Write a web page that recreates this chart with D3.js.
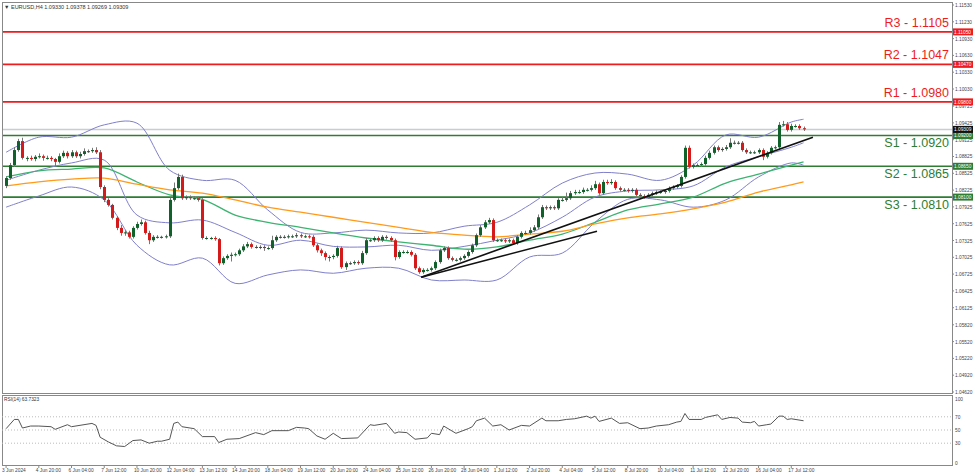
<!DOCTYPE html>
<html><head><meta charset="utf-8">
<script src="https://cdn.jsdelivr.net/npm/d3@7"></script>
<style>body{margin:0;background:#fff;font-family:"Liberation Sans",Arial,sans-serif}</style>
</head><body><svg id="c" width="975" height="476"></svg>
<script>
const closes=[1.0844,1.0867,1.0894,1.0910,1.0880,1.0880,1.0878,1.0882,1.0883,1.0880,
1.0880,1.0878,1.0873,1.0883,1.0889,1.0883,1.0890,1.0883,1.0887,1.0892,
1.0892,1.0894,1.0890,1.0828,1.0805,1.0796,1.0773,1.0755,1.0746,1.0747,
1.0739,1.0755,1.0762,1.0765,1.0746,1.0733,1.0739,1.0739,1.0739,1.0740,
1.0805,1.0826,1.0846,1.0808,1.0810,1.0808,1.0808,1.0805,1.0737,1.0737,
1.0737,1.0735,1.0692,1.0701,1.0705,1.0707,1.0708,1.0715,1.0722,1.0726,
1.0721,1.0721,1.0721,1.0719,1.0719,1.0733,1.0739,1.0739,1.0739,1.0740,
1.0740,1.0742,1.0740,1.0740,1.0739,1.0724,1.0715,1.0710,1.0703,1.0703,
1.0705,1.0719,1.0685,1.0692,1.0692,1.0694,1.0692,1.0710,1.0733,1.0733,
1.0737,1.0733,1.0739,1.0737,1.0733,1.0703,1.0712,1.0712,1.0712,1.0707,
1.0683,1.0676,1.0680,1.0680,1.0683,1.0694,1.0715,1.0719,1.0701,1.0698,
1.0698,1.0701,1.0705,1.0712,1.0724,1.0742,1.0756,1.0765,1.0769,1.0733,
1.0733,1.0733,1.0731,1.0733,1.0728,1.0739,1.0746,1.0746,1.0751,1.0756,
1.0774,1.0792,1.0790,1.0792,1.0790,1.0805,1.0805,1.0808,1.0817,1.0819,
1.0819,1.0823,1.0823,1.0826,1.0833,1.0817,1.0837,1.0835,1.0837,1.0826,
1.0823,1.0823,1.0821,1.0823,1.0814,1.0812,1.0810,1.0814,1.0817,1.0819,
1.0819,1.0821,1.0826,1.0828,1.0830,1.0846,1.0898,1.0864,1.0867,1.0867,
1.0869,1.0880,1.0889,1.0899,1.0894,1.0896,1.0899,1.0907,1.0907,1.0907,
1.0894,1.0890,1.0890,1.0890,1.0894,1.0882,1.0889,1.0898,1.0899,1.0939,
1.0940,1.0930,1.0937,1.0937,1.0933,1.0931];
const firstOpen=1.0830;
// wick sizes in pips (upper / lower)
const wickUp=[3,4,5,4,6,3,4,3,5,3, 4,3,2,5,4,3,4,3,4,5, 3,4,5,4,3,3,2,3,5,4, 3,3,4,5,3,4,3,3,2,3, 4,10,6,4,3,3,4,3,3,3, 2,3,2,3,3,4,3,3,4,4, 3,3,3,3,3,8,3,3,3,3, 3,4,3,3,3,3,3,3,3,3, 3,4,3,3,3,3,3,4,4,3, 3,3,3,3,3,3,3,3,3,3, 3,3,3,3,3,3,3,3,3,3, 3,3,3,3,3,3,4,4,4,3, 3,3,3,3,3,3,3,4,5,4, 5,4,3,3,3,3,5,10,4,4, 4,4,3,5,6,3,4,4,5,3, 3,3,3,3,3,3,3,3,3,3, 3,3,3,3,3,3,4,4,3,3, 3,4,4,3,3,3,4,8,4,3, 3,3,3,3,3,3,3,3,3,5, 6,4,4,3,3,3];
const wickDn=[4,3,3,3,3,6,3,4,3,5, 3,4,9,3,3,4,3,3,4,3, 3,3,3,4,4,3,3,4,5,5, 3,3,3,3,3,7,3,3,3,3, 3,3,3,3,3,3,3,3,3,3, 3,3,4,3,3,10,3,3,3,3, 3,3,4,5,3,3,3,3,3,3, 3,3,3,3,3,3,4,5,6,8, 4,3,3,5,3,3,3,3,3,3, 3,3,3,3,3,6,3,3,3,3, 3,3,3,3,3,3,3,3,3,3, 3,3,3,3,3,3,3,3,3,3, 3,3,3,3,3,3,3,3,3,3, 3,3,3,3,3,3,3,3,3,3, 3,3,3,3,3,3,3,3,3,3, 3,3,3,3,3,3,3,3,3,3, 3,3,3,3,3,3,3,3,3,3, 3,3,3,3,3,3,3,3,3,3, 3,3,3,3,3,6,3,3,3,3, 3,3,3,3,3,3];
const sampleIdx=[0,8,16,24,32,40,48,56,64,72,80,88,96,104,112,120,128,136,144,152,160,168,176,184,192,195];
const bbUpper=[1.0890,1.0917,1.0917,1.0939,1.0942,1.0858,1.0840,1.0840,1.0787,1.0747,1.0746,1.0751,1.0746,1.0746,1.0758,1.0765,1.0796,1.0835,1.0853,1.0851,1.0840,1.0867,1.0921,1.0917,1.0944,1.0949];
const bbMiddle=[1.0840,1.0858,1.0871,1.0876,1.0778,1.0764,1.0769,1.0747,1.0724,1.0733,1.0722,1.0721,1.0724,1.0715,1.0722,1.0733,1.0746,1.0774,1.0810,1.0821,1.0823,1.0830,1.0864,1.0882,1.0899,1.0907];
const bbLower=[1.0792,1.0812,1.0828,1.0805,1.0724,1.0689,1.0701,1.0656,1.0671,1.0680,1.0674,1.0683,1.0683,1.0662,1.0662,1.0662,1.0703,1.0710,1.0765,1.0806,1.0805,1.0792,1.0805,1.0846,1.0871,1.0867];
const maGreen=[1.0846,1.0857,1.0860,1.0862,1.0837,1.0814,1.0806,1.0778,1.0765,1.0756,1.0746,1.0737,1.0730,1.0724,1.0717,1.0721,1.0733,1.0744,1.0765,1.0787,1.0798,1.0810,1.0835,1.0851,1.0867,1.0873];
const maOrange=[1.0830,1.0837,1.0842,1.0844,1.0833,1.0823,1.0817,1.0805,1.0792,1.0783,1.0774,1.0765,1.0756,1.0747,1.0742,1.0739,1.0744,1.0749,1.0762,1.0773,1.0780,1.0789,1.0801,1.0819,1.0832,1.0837];
const rsiIdx=[0,2,3,4,6,8,11,12,15,16,21,22,23,25,27,29,31,33,35,37,38,40,41,42,43,46,48,51,52,54,57,61,63,65,69,71,73,74,76,78,80,82,86,89,90,93,95,96,98,100,103,104,106,107,110,113,114,115,117,119,121,123,126,128,131,132,135,137,139,142,143,144,145,148,150,152,155,157,159,162,164,165,166,167,170,171,174,175,177,179,180,182,183,184,186,187,189,190,191,192,195];
const rsiVal=[52,66,66,53,56,56,55,51,58,55,60,57,39,32,26,25,34,35,30,33,33,36,60,62,55,52,40,40,31,36,37,46,43,49,49,54,53,52,41,36,45,37,38,58,57,60,45,47,46,36,38,45,43,56,45,52,55,64,68,56,58,50,57,56,68,64,64,66,67,71,68,71,63,68,60,61,52,53,56,58,62,63,75,66,66,69,73,66,69,68,62,61,63,56,58,59,71,71,66,67,64];
const levels=[{n:"R3",v:1.1105,t:"r"},{n:"R2",v:1.1047,t:"r"},{n:"R1",v:1.0980,t:"r"},{n:"S1",v:1.0920,t:"s"},{n:"S2",v:1.0865,t:"s"},{n:"S3",v:1.0810,t:"s"}];
const levelTags=["1.11050","1.10470","1.09800","1.09200","1.08650","1.08100"];
const lastPrice=1.09309;
const trend1=[[101.5,1.0667],[197.3,1.0917]];
const trend2=[[101.5,1.0667],[144.5,1.0749]];
const priceTicks=[1.11530,1.11230,1.10930,1.10630,1.10330,1.10030,1.09725,1.09425,1.09125,1.08825,1.08525,1.08225,1.07925,1.07625,1.07325,1.07025,1.06725,1.06425,1.06125,1.05820,1.05520,1.05220,1.04920,1.04620];
const timeLabels=["3 Jun 2024","4 Jun 20:00","6 Jun 04:00","7 Jun 12:00","10 Jun 20:00","12 Jun 04:00","13 Jun 12:00","14 Jun 20:00","18 Jun 04:00","19 Jun 12:00","20 Jun 20:00","24 Jun 04:00","25 Jun 12:00","26 Jun 20:00","28 Jun 04:00","1 Jul 12:00","2 Jul 20:00","4 Jul 04:00","5 Jul 12:00","8 Jul 20:00","10 Jul 04:00","11 Jul 12:00","12 Jul 20:00","16 Jul 04:00","17 Jul 12:00"];
const rsiTicks=[100,70,50,30,0];

const svg=d3.select("#c");
const L=2,R=952,T=2,B=393,RT=395,RB=465;
const x=d3.scaleLinear().domain([-1,231.3]).range([L,R]);
const y=d3.scaleLinear().domain([1.0462,1.1153]).range([392,5]);
const yr=d3.scaleLinear().domain([0,100]).range([463,397]);
const FS=4.8;

svg.append("rect").attr("x",L+.5).attr("y",T+.5).attr("width",R-L).attr("height",B-T).attr("fill","none").attr("stroke","#888");
svg.append("rect").attr("x",L+.5).attr("y",RT+.5).attr("width",R-L).attr("height",RB-RT).attr("fill","none").attr("stroke","#888");

svg.append("defs").append("clipPath").attr("id","cl").append("rect").attr("x",L+1).attr("y",T+1).attr("width",R-L-1).attr("height",B-T-1);
const g=svg.append("g").attr("clip-path","url(#cl)");

g.append("line").attr("x1",L).attr("x2",R).attr("y1",y(lastPrice)).attr("y2",y(lastPrice)).attr("stroke","#c8ccd4").attr("stroke-width",1.5);
levels.forEach(d=>{
  const col=d.t==="r"?"#ee1c1c":"#2e7d32";
  g.append("line").attr("x1",L).attr("x2",R).attr("y1",y(d.v)).attr("y2",y(d.v)).attr("stroke",col).attr("stroke-width",1.6);
  svg.append("text").attr("x",949).attr("y",d.t==="r"?y(d.v)-5:y(d.v)+12).attr("text-anchor","end")
    .attr("font-size",12.5).attr("fill",col).text(`${d.n} - ${d.v.toFixed(4)}`);
});

const line=(arr)=>d3.line().x((d,i)=>x(sampleIdx[i])).y(d=>y(d)).curve(d3.curveCatmullRom)(arr);
[bbUpper,bbMiddle,bbLower].forEach(a=>g.append("path").attr("d",line(a)).attr("fill","none").attr("stroke","#8080cc").attr("stroke-width",1));
g.append("path").attr("d",line(maGreen)).attr("fill","none").attr("stroke","#3cb371").attr("stroke-width",1.3);
g.append("path").attr("d",line(maOrange)).attr("fill","none").attr("stroke","#ff9a1a").attr("stroke-width",1.3);

const candles=closes.map((c,i)=>{const o=i?closes[i-1]:firstOpen;return{i,o,c,h:Math.max(o,c)+wickUp[i]*1e-4,l:Math.min(o,c)-wickDn[i]*1e-4};});
const cg=g.append("g");
candles.forEach(d=>{
  const cx=Math.round(x(d.i))+.5;
  cg.append("line").attr("x1",cx).attr("x2",cx).attr("y1",y(d.h)).attr("y2",y(d.l)).attr("stroke","#777").attr("stroke-width",1);
  const top=y(Math.max(d.o,d.c)),bot=y(Math.min(d.o,d.c));
  cg.append("rect").attr("x",cx-1.5).attr("y",top).attr("width",3).attr("height",Math.max(1,bot-top))
    .attr("fill",d.c>=d.o?"#11612b":"#d41a1a");
});

[trend1,trend2].forEach(t=>g.append("line").attr("x1",x(t[0][0])).attr("y1",y(t[0][1])).attr("x2",x(t[1][0])).attr("y2",y(t[1][1])).attr("stroke","#111").attr("stroke-width",1.6));

const ax=svg.append("g").attr("font-size",FS).attr("fill","#444");
priceTicks.forEach(v=>{
  ax.append("line").attr("x1",R).attr("x2",R+2).attr("y1",y(v)).attr("y2",y(v)).attr("stroke","#888");
  ax.append("text").attr("x",R+3).attr("y",y(v)+2).text(v.toFixed(5));
});
levels.forEach((d,k)=>{
  const col=d.t==="r"?"#ee1c1c":"#2e7d32";
  svg.append("rect").attr("x",R+1).attr("y",y(d.v)-3.5).attr("width",20).attr("height",7).attr("fill",col);
  svg.append("text").attr("x",R+2).attr("y",y(d.v)+1.8).attr("font-size",FS).attr("fill","#fff").text(levelTags[k]);
});
svg.append("rect").attr("x",R+1).attr("y",y(lastPrice)-3.5).attr("width",20).attr("height",7).attr("fill","#111");
svg.append("text").attr("x",R+2).attr("y",y(lastPrice)+1.8).attr("font-size",FS).attr("fill","#fff").text(lastPrice.toFixed(5));

svg.append("text").attr("x",4).attr("y",9).attr("font-size",5.5).attr("fill","#333").text("▼ EURUSD,H4  1.09330 1.09378 1.09269 1.09309");

const rg=svg.append("g");
[70,50,30].forEach(v=>rg.append("line").attr("x1",L).attr("x2",R).attr("y1",yr(v)).attr("y2",yr(v)).attr("stroke","#bbb").attr("stroke-dasharray","1,2"));
rg.append("path").attr("d",d3.line().x((d,i)=>x(rsiIdx[i])).y(d=>yr(d))(rsiVal)).attr("fill","none").attr("stroke","#555").attr("stroke-width",1);
rg.append("text").attr("x",4).attr("y",401).attr("font-size",FS).attr("fill","#333").text("RSI(14) 63.7323");
rsiTicks.forEach(v=>rg.append("text").attr("x",R+3).attr("y",yr(v)+(v===100?4:2)).attr("font-size",FS).attr("fill","#444").text(v));

timeLabels.forEach((t,k)=>{
  const xx=x(k*8);
  svg.append("line").attr("x1",xx).attr("x2",xx).attr("y1",RB).attr("y2",RB+3).attr("stroke","#888");
  svg.append("text").attr("x",k?xx-3:2).attr("y",472).attr("font-size",FS).attr("fill","#444").text(t);
});
</script></body></html>
